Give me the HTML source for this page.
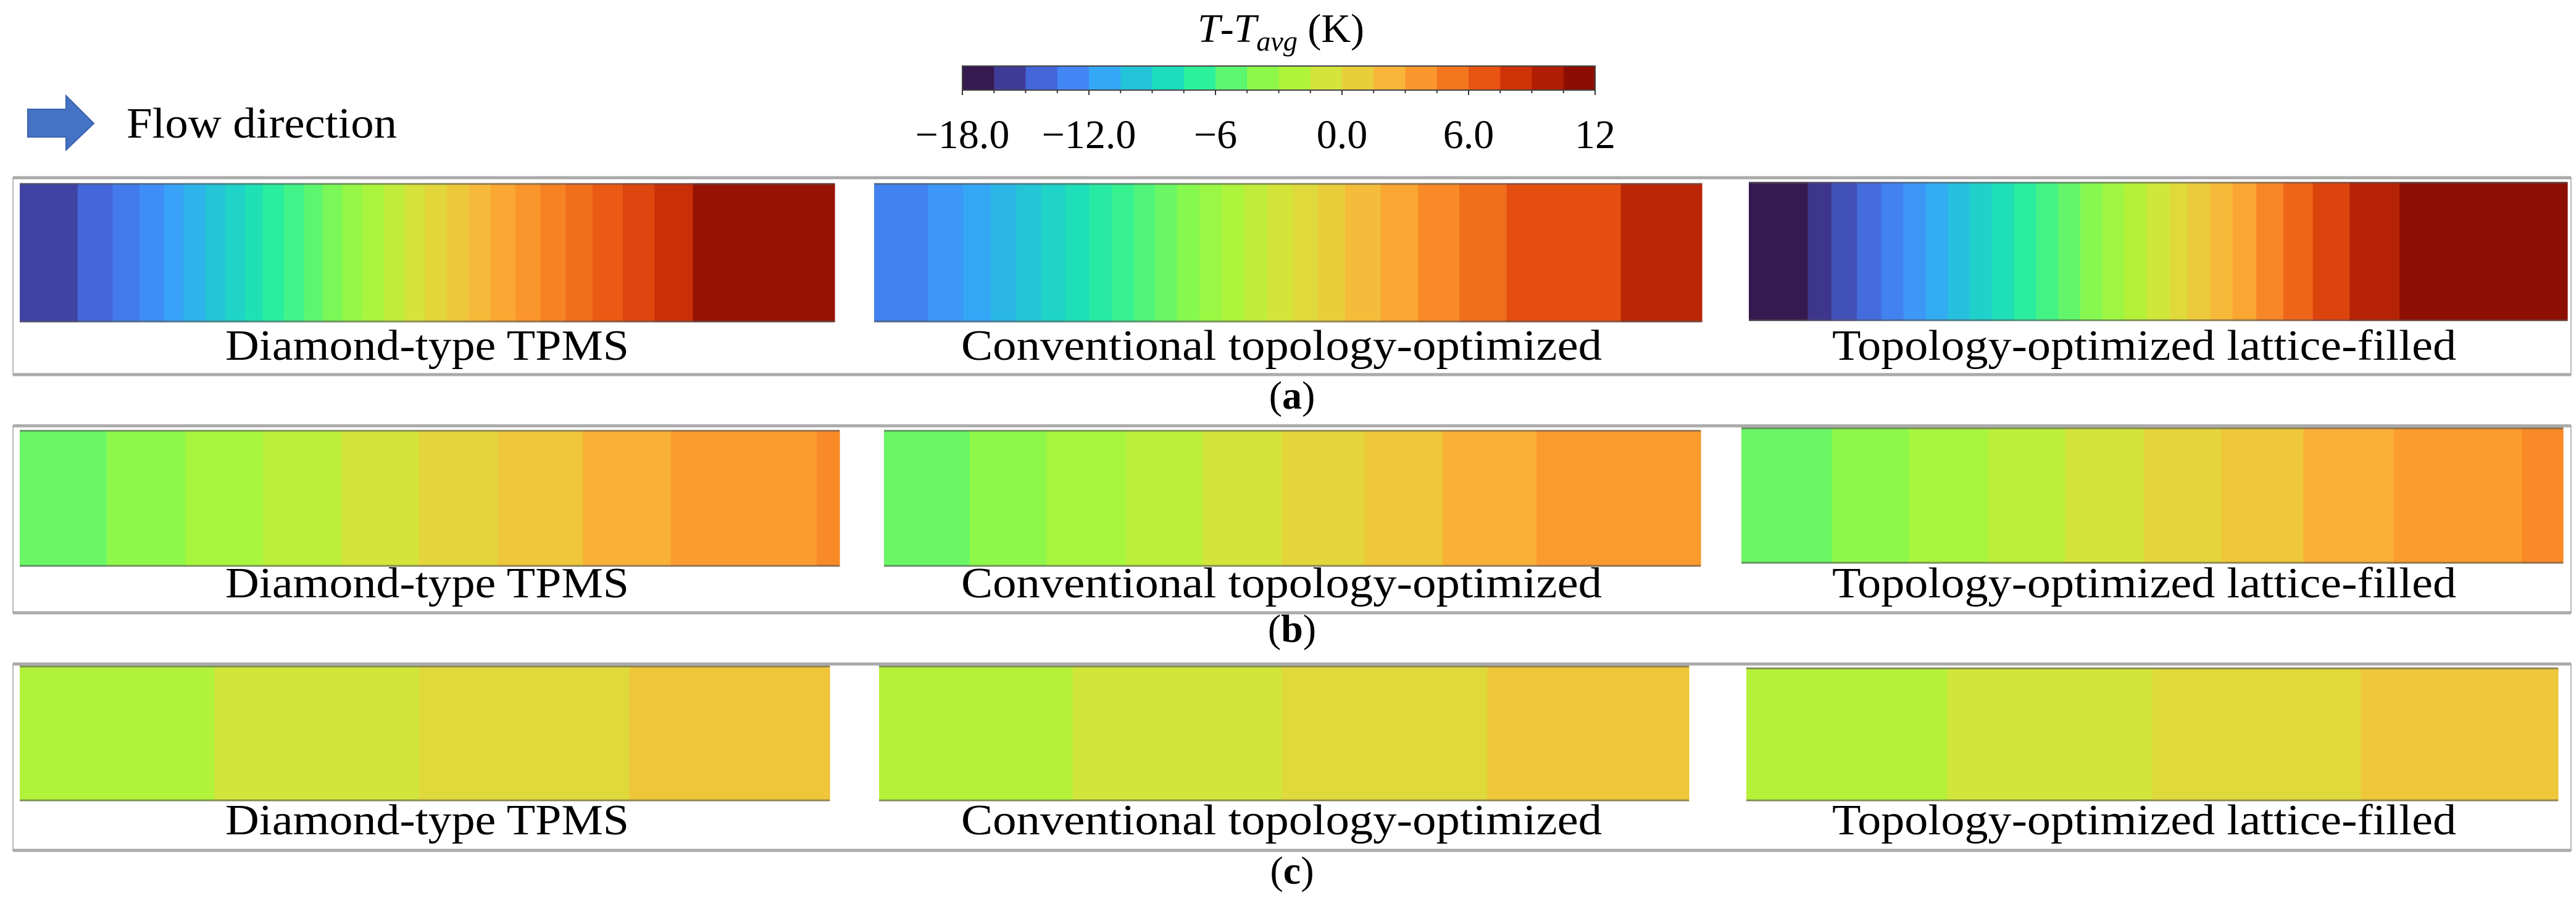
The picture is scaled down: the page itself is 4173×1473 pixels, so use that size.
<!DOCTYPE html>
<html><head><meta charset="utf-8">
<style>
html,body{margin:0;padding:0;background:#fff;}
svg{display:block;}
text{font-family:"Liberation Serif",serif;fill:#000;}
</style></head>
<body>
<svg id="fig" width="4173" height="1473" viewBox="0 0 4173 1473" xmlns="http://www.w3.org/2000/svg">
  <g>
    <polygon points="45,177 107,177 107,155 152,200 107,243 107,222 45,222" fill="#4472c4" stroke="#3a63ad" stroke-width="2"/>
    <text x="205" y="223" font-size="70" textLength="438" lengthAdjust="spacingAndGlyphs">Flow direction</text>
  </g>
  <g id="colorbar">
    <text x="1940" y="68" font-size="66"><tspan font-style="italic">T</tspan>-<tspan font-style="italic">T</tspan><tspan font-style="italic" font-size="46" dy="14">avg</tspan><tspan dy="-14"> (K)</tspan></text>
  </g>
  <g id="panels"></g>
</svg>
<script>
// Colorbar data
const cbLevels = ["#36194f","#3f3c98","#4466d8","#4287f5","#35a7f7","#23c4d8","#1cdcbe","#2df09a","#5cf670","#8ef84a","#b0f43a","#d5e43a","#e9ce3b","#f9b539","#fb972c","#f3761f","#e85412","#cf3409","#b01e04","#8c0e03"];
const cbMin = -18;
const cbMax = 12;
const cbTickValues = [-18, -12, -6, 0, 6, 12];
const cbTickLabels = ["\u221218.0", "\u221212.0", "\u22126", "0.0", "6.0", "12"];

// Panel data: band boundaries (fraction of plot width) and band temperatures (K)
const rowLabels = ["(a)", "(b)", "(c)"];
const panelTitles = ["Diamond-type TPMS", "Conventional topology-optimized", "Topology-optimized lattice-filled"];
const a1Bounds = [.071,.114,.147,.177,.201,.228,.252,.276,.298,.324,.349,.372,.396,.421,.447,.472,.497,.524,.551,.578,.608,.639,.670,.703,.740,.779,.826];
const a1Temps = [-15.5,-14.2,-13.3,-12.4,-11.5,-10.6,-9.7,-8.8,-7.9,-7,-6.1,-5.2,-4.3,-3.4,-2.5,-1.6,-0.7,0.2,1.1,2.0,2.9,3.8,4.7,5.6,6.5,7.4,8.5,10.8];
const a2Bounds = [.065,.108,.141,.172,.202,.231,.260,.287,.314,.339,.366,.393,.420,.447,.475,.505,.536,.569,.612,.657,.707,.764,.902];
const a2Temps = [-13,-12,-11.2,-10.4,-9.6,-8.8,-8,-7.2,-6.4,-5.6,-4.8,-4,-3.2,-2.4,-1.6,-0.8,0,0.8,1.8,3,4.3,5.6,7.0,9.2];
const a3Bounds = [.072,.101,.132,.162,.189,.216,.243,.270,.297,.324,.351,.378,.405,.432,.459,.486,.514,.536,.564,.591,.620,.653,.689,.734,.795];
const a3Temps = [-17.3,-16,-15,-14,-13,-12,-11,-10,-9,-8,-7,-6,-5,-4,-3,-2,-1,0,1,2,3,4.5,6,7.5,9.5,11.2];
const b1Bounds = [.106,.202,.297,.393,.487,.583,.687,.794,.972];
const b1Temps = [-4.8,-3.75,-2.6,-1.8,-0.75,0.3,1.2,2.5,3.5,4.3];
const b2Bounds = [.105,.199,.296,.390,.487,.588,.684,.799];
const b2Temps = [-4.8,-3.75,-2.6,-1.8,-0.75,0.3,1.2,2.5,3.6];
const b3Bounds = [.11,.204,.30,.394,.49,.584,.684,.794,.95];
const b3Temps = [-4.8,-3.75,-2.6,-1.8,-0.75,0.3,1.2,2.5,3.5,4.4];
const c1Bounds = [.24,.493,.753];
const c1Temps = [-2.2,-0.9,0,1.3];
const c2Bounds = [.239,.497,.751];
const c2Temps = [-2.0,-0.9,0,1.2];
const c3Bounds = [.247,.5,.757];
const c3Temps = [-2.0,-0.9,0,1.2];

const NS = "http://www.w3.org/2000/svg";
function mk(tag, attrs, parent){ const e=document.createElementNS(NS,tag); for(const k in attrs) e.setAttribute(k,attrs[k]); parent.appendChild(e); return e; }
function hex(h){ return [parseInt(h.substr(1,2),16),parseInt(h.substr(3,2),16),parseInt(h.substr(5,2),16)]; }
function colorOf(v){
  const step=(cbMax-cbMin)/cbLevels.length;
  let f=(v-cbMin)/step-0.5;
  f=Math.max(0,Math.min(cbLevels.length-1,f));
  const i=Math.floor(f), t=f-i, j=Math.min(i+1,cbLevels.length-1);
  const a=hex(cbLevels[i]), b=hex(cbLevels[j]);
  return "rgb("+a.map((x,k)=>Math.round(x+(b[k]-x)*t)).join(",")+")";
}

// Colorbar drawing
const cb=document.getElementById("colorbar");
const cbX0=1559, cbX1=2584, cbY=107, cbH=39;
const cbScale=v=>cbX0+(v-cbMin)/(cbMax-cbMin)*(cbX1-cbX0);
const stepV=(cbMax-cbMin)/cbLevels.length;
cbLevels.forEach((c,i)=>{
  const r=mk("rect",{x:cbScale(cbMin+i*stepV),y:cbY,width:cbScale(cbMin+(i+1)*stepV)-cbScale(cbMin+i*stepV)+0.5,height:cbH,fill:c},cb);
  
  
});
mk("rect",{x:cbX0,y:cbY,width:cbX1-cbX0,height:cbH,fill:"none",stroke:"#444","stroke-width":2},cb);
for(let i=0;i<=cbLevels.length;i++){
  const x=cbScale(cbMin+i*stepV);
  const tk=mk("line",{x1:x,x2:x,y1:cbY+cbH,y2:cbY+cbH+(i%4===0?8:5),stroke:"#333","stroke-width":2},cb);
  
  
}
cbTickValues.forEach((v,i)=>{
  const t=mk("text",{x:cbScale(v),y:240,"font-size":66,"text-anchor":"middle"},cb);
  t.textContent=cbTickLabels[i];
  
  
});

// Panels
const rows=[
  {frame:[21,288,4165,607], label:640, textY:583,
   plots:[{x:32,y:297,w:1320,h:225,b:a1Bounds,t:a1Temps},{x:1416,y:297,w:1341,h:225,b:a2Bounds,t:a2Temps},{x:2833,y:295,w:1326,h:225,b:a3Bounds,t:a3Temps}]},
  {frame:[21,690,4165,993], label:1018, textY:968,
   plots:[{x:32,y:697,w:1328,h:221,b:b1Bounds,t:b1Temps},{x:1432,y:697,w:1323,h:221,b:b2Bounds,t:b2Temps},{x:2821,y:693,w:1331,h:220,b:b3Bounds,t:b3Temps}]},
  {frame:[21,1076,4165,1378], label:1410, textY:1352,
   plots:[{x:32,y:1079,w:1312,h:219,b:c1Bounds,t:c1Temps},{x:1424,y:1079,w:1312,h:219,b:c2Bounds,t:c2Temps},{x:2829,y:1082,w:1315,h:216,b:c3Bounds,t:c3Temps}]}
];
const textSpans=[[365,1019],[1557,2595],[2968,3979]];
const panels=document.getElementById("panels");
rows.forEach((row,ri)=>{
  const g=mk("g",{},panels);
  
  
  const [fx0,fy0,fx1,fy1]=row.frame;
  const fr=mk("rect",{x:fx0,y:fy0,width:fx1-fx0,height:fy1-fy0,fill:"none",stroke:"#b8b8b8","stroke-width":2},g);
  
  
  mk("line",{x1:fx0,x2:fx1,y1:fy0,y2:fy0,stroke:"#aaa","stroke-width":5},g);
  mk("line",{x1:fx0,x2:fx1,y1:fy1,y2:fy1,stroke:"#aaa","stroke-width":5},g);
  row.plots.forEach((p,pi)=>{
    const pg=mk("g",{},g);
    
    
    const edges=[0].concat(p.b,[1]);
    p.t.forEach((v,k)=>{
      const x0=p.x+edges[k]*p.w, x1=p.x+edges[k+1]*p.w;
      const r=mk("rect",{x:x0,y:p.y,width:x1-x0+0.6,height:p.h,fill:colorOf(v)},pg);
      
      
    });
    mk("line",{x1:p.x,x2:p.x+p.w,y1:p.y+1,y2:p.y+1,stroke:"#555","stroke-opacity":0.6,"stroke-width":3},pg);
    mk("line",{x1:p.x,x2:p.x+p.w,y1:p.y+p.h-1,y2:p.y+p.h-1,stroke:"#555","stroke-opacity":0.6,"stroke-width":3},pg);
    const s=textSpans[pi];
    const t=mk("text",{x:s[0],y:row.textY,"font-size":70,textLength:s[1]-s[0],lengthAdjust:"spacingAndGlyphs"},pg);
    t.textContent=panelTitles[pi];
    
    
  });
  const lt=mk("text",{x:2093,y:row.label+22,"font-size":64,"text-anchor":"middle"},g);
  lt.innerHTML='(<tspan font-weight="bold">'+"abc"[ri]+'</tspan>)';
  
  
});
</script>
</body></html>
